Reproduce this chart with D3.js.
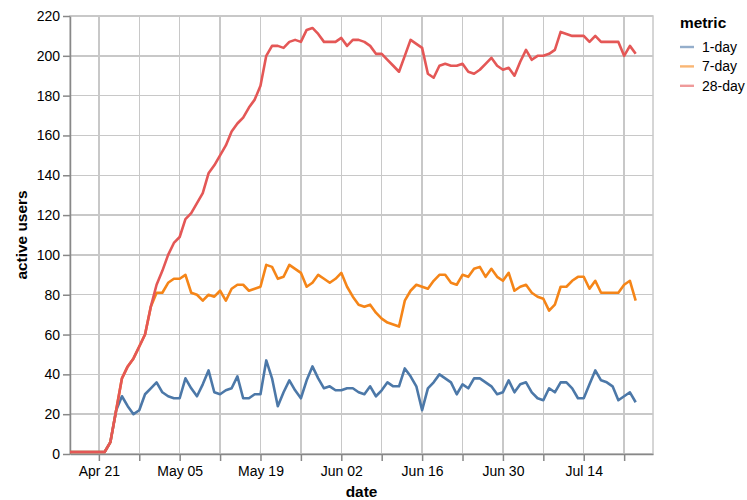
<!DOCTYPE html>
<html>
<head>
<meta charset="utf-8">
<script src="https://cdn.jsdelivr.net/npm/d3@7"></script>
<style>
  body { margin: 0; background: #fff; }
  svg { font-family: "Liberation Sans", Arial, Helvetica, sans-serif; }
  .grid line { stroke: #c8c8c8; stroke-width: 1.5px; shape-rendering: crispEdges; }
  .axis path, .axis line { stroke: #888; stroke-width: 1.5px; }
  .axis text { font-size: 14px; fill: #000; }
  .title { font-size: 15.4px; font-weight: bold; fill: #000; }
</style>
</head>
<body>
<div id="chart"></div>
<script>
// daily data, first point on startDate
var startDate = "2019-04-16";
var domainEnd = "2019-07-26";

var metrics = ["1-day", "7-day", "28-day"];
var colors = ["#4c78a8", "#f58518", "#e45756"];

var oneDay = [1, 1, 1, 1, 1, 1, 1, 6, 22, 29, 24, 20, 22, 30, 33, 36, 31, 29, 28, 28,
    38, 33, 29, 35, 42, 31, 30, 32, 33, 39, 28, 28, 30, 30, 47, 38, 24, 31, 37, 32,
    28, 37, 44, 38, 33, 34, 32, 32, 33, 33, 31, 30, 34, 29, 32, 36, 34, 34, 43, 39,
    34, 22, 33, 36, 40, 38, 36, 30, 35, 33, 38, 38, 36, 34, 30, 31, 37, 31, 35, 36,
    31, 28, 27, 33, 31, 36, 36, 33, 28, 28, 35, 42, 37, 36, 34, 27, 29, 31, 26];

var sevenDay = [1, 1, 1, 1, 1, 1, 1, 6, 22, 38, 44, 48, 54, 60, 74, 81, 81, 86, 88, 88,
    90, 81, 80, 77, 80, 79, 82, 77, 83, 85, 85, 82, 83, 84, 95, 94, 88, 89, 95, 93,
    91, 84, 86, 90, 88, 86, 88, 91, 84, 79, 75, 74, 75, 71, 68, 66, 65, 64, 77, 82,
    85, 84, 83, 87, 90, 90, 86, 85, 90, 89, 93, 94, 89, 93, 89, 87, 91, 82, 84, 85,
    81, 79, 78, 72, 75, 84, 84, 87, 89, 89, 83, 87, 81, 81, 81, 81, 85, 87, 77];

var twentyEightDay = [1, 1, 1, 1, 1, 1, 1, 6, 22, 38, 44, 48, 54, 60, 74, 85, 92, 100, 106, 109,
    118, 121, 126, 131, 141, 145, 150, 155, 162, 166, 169, 174, 178, 185, 200, 205, 205, 204, 207, 208,
    207, 213, 214, 211, 207, 207, 207, 209, 205, 208, 208, 207, 205, 201, 201, 198, 195, 192, 200, 208,
    206, 204, 191, 189, 195, 196, 195, 195, 196, 192, 191, 193, 196, 199, 195, 193, 194, 190, 197, 203,
    198, 200, 200, 201, 203, 212, 211, 210, 210, 210, 207, 210, 207, 207, 207, 207, 200, 205, 201];

var yTicks = [0, 20, 40, 60, 80, 100, 120, 140, 160, 180, 200, 220];

var seriesValues = [oneDay, sevenDay, twentyEightDay];

var margin = {top: 16, right: 94, bottom: 46, left: 70},
    width = 747 - margin.left - margin.right,
    height = 500 - margin.top - margin.bottom;

var parseDate = d3.timeParse("%Y-%m-%d");
var start = parseDate(startDate);

var series = metrics.map(function(m, k){
    return {
        metric: m,
        color: colors[k],
        values: seriesValues[k].map(function(v, i){
            return {date: d3.timeDay.offset(start, i), value: v};
        })
    };
});

var svg = d3.select("#chart").append("svg")
    .attr("width", width + margin.left + margin.right)
    .attr("height", height + margin.top + margin.bottom);

var g = svg.append("g")
    .attr("transform", "translate(" + margin.left + "," + margin.top + ")");

var x = d3.scaleTime()
    .domain([start, parseDate(domainEnd)])
    .range([0, width]);

var y = d3.scaleLinear()
    .domain([0, 220])
    .range([height, 0]);

// weekly ticks (sundays), label every second one
var weeks = d3.timeWeek.range(x.domain()[0], x.domain()[1]);
var fmt = d3.timeFormat("%b %d");

//grid
g.append("g").attr("class", "grid")
    .selectAll("line").data(weeks).enter().append("line")
    .attr("x1", function(d){ return x(d); })
    .attr("x2", function(d){ return x(d); })
    .attr("y1", 0).attr("y2", height);

g.append("g").attr("class", "grid")
    .selectAll("line").data(yTicks).enter().append("line")
    .attr("x1", 0).attr("x2", width)
    .attr("y1", function(d){ return y(d); })
    .attr("y2", function(d){ return y(d); });

// view border
g.append("rect")
    .attr("width", width).attr("height", height)
    .attr("fill", "none").attr("stroke", "#c8c8c8").attr("stroke-width", 1.5);

var xAxis = d3.axisBottom(x)
    .tickValues(weeks)
    .tickSize(7).tickSizeOuter(0).tickPadding(5)
    .tickFormat(function(d, i){ return i % 2 == 0 ? fmt(d) : ""; });

var yAxis = d3.axisLeft(y)
    .tickValues(yTicks)
    .tickSize(7).tickSizeOuter(0).tickPadding(3);

g.append("g")
    .attr("class", "x axis")
    .attr("transform", "translate(0," + height + ")")
    .call(xAxis);

g.append("g")
    .attr("class", "y axis")
    .call(yAxis);

g.selectAll(".axis .domain").attr("stroke", "#888");

// axis titles
svg.append("text")
    .attr("class", "title")
    .attr("x", margin.left + width / 2)
    .attr("y", 497)
    .attr("text-anchor", "middle")
    .text("date");

svg.append("text")
    .attr("class", "title")
    .attr("transform", "translate(27," + (margin.top + height / 2) + ") rotate(-90)")
    .attr("text-anchor", "middle")
    .text("active users");

// lines
var line = d3.line()
    .x(function(d){ return x(d.date); })
    .y(function(d){ return y(d.value); });

g.selectAll(".series").data(series).enter()
    .append("path")
    .attr("class", "series")
    .attr("fill", "none")
    .attr("stroke", function(d){ return d.color; })
    .attr("stroke-width", 2.6)
    .attr("stroke-linejoin", "round")
    .attr("d", function(d){ return line(d.values); });

// legend
var legend = svg.append("g")
    .attr("transform", "translate(680,0)");

legend.append("text")
    .attr("class", "title")
    .attr("x", 0).attr("y", 28)
    .text("metric");

var rows = legend.selectAll(".row").data(series).enter()
    .append("g")
    .attr("class", "row")
    .attr("transform", function(d, i){ return "translate(0," + (47 + i * 19.4) + ")"; });

rows.append("line")
    .attr("x1", 0).attr("x2", 14)
    .attr("stroke", function(d){ return d.color; })
    .attr("stroke-opacity", 0.6)
    .attr("stroke-width", 2.4);

rows.append("text")
    .attr("x", 22)
    .attr("dy", "0.35em")
    .style("font-size", "14px")
    .text(function(d){ return d.metric; });
</script>
</body>
</html>
